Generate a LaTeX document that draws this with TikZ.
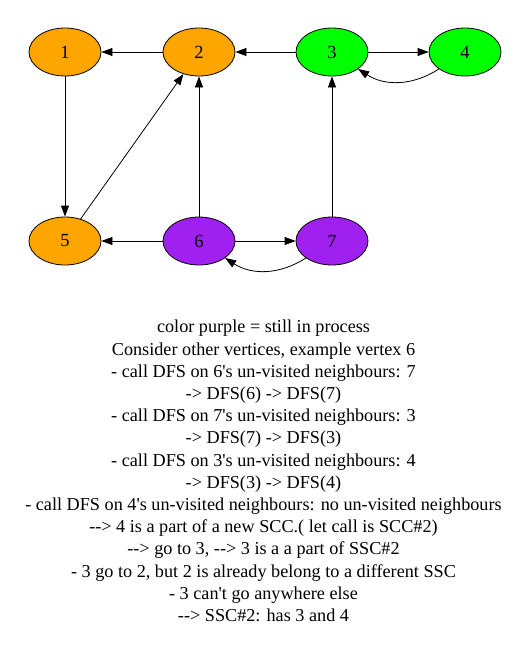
\documentclass[tikz,border=0pt]{standalone}
\usepackage{fontspec}
\setmainfont{Liberation Serif}[Ligatures=TeXOff]
\usetikzlibrary{arrows.meta,shapes.geometric}
\definecolor{gvorange}{HTML}{FFA500}
\definecolor{gvgreen}{HTML}{00FF00}
\definecolor{gvpurple}{HTML}{A020F0}
\begin{document}
\begin{tikzpicture}[x=1pt,y=-1pt,
  vtx/.style={ellipse,draw=black,line width=0.8pt,minimum width=72pt,minimum height=48pt,inner sep=0pt,font=\fontsize{18.5}{22}\selectfont},
  edge/.style={line width=0.8pt,-{Triangle[length=11pt,width=8pt]}}]
\useasboundingbox (0,0) rectangle (531,661);
\node[vtx,fill=gvorange] (n1) at (65,52) {1};
\node[vtx,fill=gvorange] (n2) at (199,52) {2};
\node[vtx,fill=gvgreen] (n3) at (332,52) {3};
\node[vtx,fill=gvgreen] (n4) at (465,52) {4};
\node[vtx,fill=gvorange] (n5) at (65,241) {5};
\node[vtx,fill=gvpurple] (n6) at (199,241) {6};
\node[vtx,fill=gvpurple] (n7) at (332,241) {7};
\draw[edge] (n2) -- (n1);
\draw[edge] (n3) -- (n2);
\draw[edge] (n3) -- (n4);
\draw[edge] (n4) to[bend left=33] (n3);
\draw[edge] (n1) -- (n5);
\draw[edge] (n5) -- (n2);
\draw[edge] (n6) -- (n2);
\draw[edge] (n6) -- (n5);
\draw[edge] (n6) -- (n7);
\draw[edge] (n7) to[bend left=33] (n6);
\draw[edge] (n7) -- (n3);
\node[align=center,inner sep=0pt,anchor=north,font=\fontsize{18.2}{22.2}\selectfont] (txt) at (263.5,320) {%
color purple = still in process\\
Consider other vertices, example vertex 6\\
- call DFS on 6's un-visited neighbours: 7\\
-> DFS(6) -> DFS(7)\\
- call DFS on 7's un-visited neighbours: 3\\
-> DFS(7) -> DFS(3)\\
- call DFS on 3's un-visited neighbours: 4\\
-> DFS(3) -> DFS(4)\\
- call DFS on 4's un-visited neighbours: no un-visited neighbours\\
--> 4 is a part of a new SCC.( let call is SCC\#2)\\
--> go to 3, --> 3 is a a part of SSC\#2\\
- 3 go to 2, but 2 is already belong to a different SSC\\
- 3 can't go anywhere else\\
--> SSC\#2: has 3 and 4};
\end{tikzpicture}
\end{document}
